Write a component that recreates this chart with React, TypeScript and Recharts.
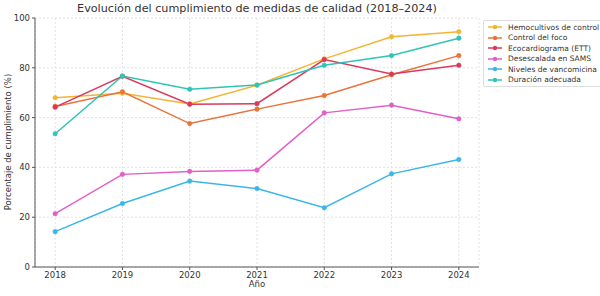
import { CartesianGrid, Line, LineChart, XAxis, YAxis } from "recharts"

const years = [2018, 2019, 2020, 2021, 2022, 2023, 2024]
const yTicks = [0, 20, 40, 60, 80, 100]

const hemocultivos = [68, 69.8, 65.5, 73, 83.6, 92.5, 94.5]
const controlFoco = [64.5, 70.4, 57.6, 63.4, 68.9, 77.2, 84.9]
const ecocardiograma = [64.2, 76.6, 65.4, 65.6, 83.3, 77.5, 81]
const desescalada = [21.4, 37.2, 38.4, 38.9, 61.9, 65, 59.5]
const vancomicina = [14.2, 25.5, 34.5, 31.5, 23.8, 37.4, 43.2]
const duracion = [53.5, 76.7, 71.4, 73.1, 81, 84.9, 91.9]

const series = [
  { key: "hemo", name: "Hemocultivos de control", values: hemocultivos, color: "#f2b533" },
  { key: "foco", name: "Control del foco", values: controlFoco, color: "#e8743b" },
  { key: "eco", name: "Ecocardiograma (ETT)", values: ecocardiograma, color: "#d93a5c" },
  { key: "sams", name: "Desescalada en SAMS", values: desescalada, color: "#e060c8" },
  { key: "vanco", name: "Niveles de vancomicina", values: vancomicina, color: "#3bb6e8" },
  { key: "dur", name: "Duración adecuada", values: duracion, color: "#2ec4b6" },
]

const data = years.map((year, i) => {
  const row: Record<string, number> = { year }
  series.forEach((s) => {
    row[s.key] = s.values[i]
  })
  return row
})

const font = "'DejaVu Sans', sans-serif"

function LegendBox() {
  return (
    <div
      style={{
        position: "absolute",
        left: 483,
        top: 20,
        border: "1px solid #ddd",
        borderRadius: 2,
        background: "#fff",
        padding: "1px 3px 1px 3px",
        fontFamily: font,
        fontSize: 7.5,
        color: "#333",
        whiteSpace: "nowrap",
      }}
    >
      {series.map((s) => (
        <div key={s.key} style={{ display: "flex", alignItems: "center", height: 10.5 }}>
          <svg width={16} height={8} style={{ marginRight: 5, flexShrink: 0 }}>
            <line x1={1} y1={4} x2={15} y2={4} stroke={s.color} strokeWidth={1.5} />
            <circle cx={8} cy={4} r={2.2} fill={s.color} />
          </svg>
          <span>{s.name}</span>
        </div>
      ))}
    </div>
  )
}

export default function App() {
  return (
    <div style={{ position: "absolute", left: 0, top: 0, width: 600, height: 296, background: "#fff" }}>
      <LineChart
        width={600}
        height={296}
        data={data}
        margin={{ top: 18, right: 121, bottom: 0, left: 0 }}
        style={{ fontFamily: font }}
      >
        <CartesianGrid stroke="#e2e2e2" strokeDasharray="2 2" />
        <XAxis
          dataKey="year"
          type="number"
          domain={[2017.7, 2024.3]}
          ticks={years}
          height={29}
          stroke="#555"
          tickSize={3}
          tick={{ fill: "#333", fontSize: 8.5 }}
        />
        <YAxis
          domain={[0, 100]}
          ticks={yTicks}
          width={35}
          stroke="#555"
          tickSize={3}
          tick={{ fill: "#333", fontSize: 8.5 }}
        />
        {series.map((s) => (
          <Line
            key={s.key}
            dataKey={s.key}
            name={s.name}
            stroke={s.color}
            strokeWidth={1.5}
            dot={{ r: 2.3, fill: s.color, stroke: s.color, strokeWidth: 0.5 }}
            isAnimationActive={false}
          />
        ))}
      </LineChart>
      <div
        style={{
          position: "absolute",
          left: 35,
          width: 444,
          top: 2,
          textAlign: "center",
          fontFamily: font,
          fontSize: 11.2,
          color: "#333",
          whiteSpace: "nowrap",
        }}
      >
        Evolución del cumplimiento de medidas de calidad (2018–2024)
      </div>
      <div
        style={{
          position: "absolute",
          left: 8,
          top: 142,
          transform: "translate(-50%, -50%) rotate(-90deg)",
          whiteSpace: "nowrap",
          fontFamily: font,
          fontSize: 8.5,
          color: "#333",
        }}
      >
        Porcentaje de cumplimiento (%)
      </div>
      <div
        style={{
          position: "absolute",
          left: 35,
          width: 444,
          top: 279,
          textAlign: "center",
          fontFamily: font,
          fontSize: 8.5,
          color: "#333",
        }}
      >
        Año
      </div>
      <LegendBox />
    </div>
  )
}
